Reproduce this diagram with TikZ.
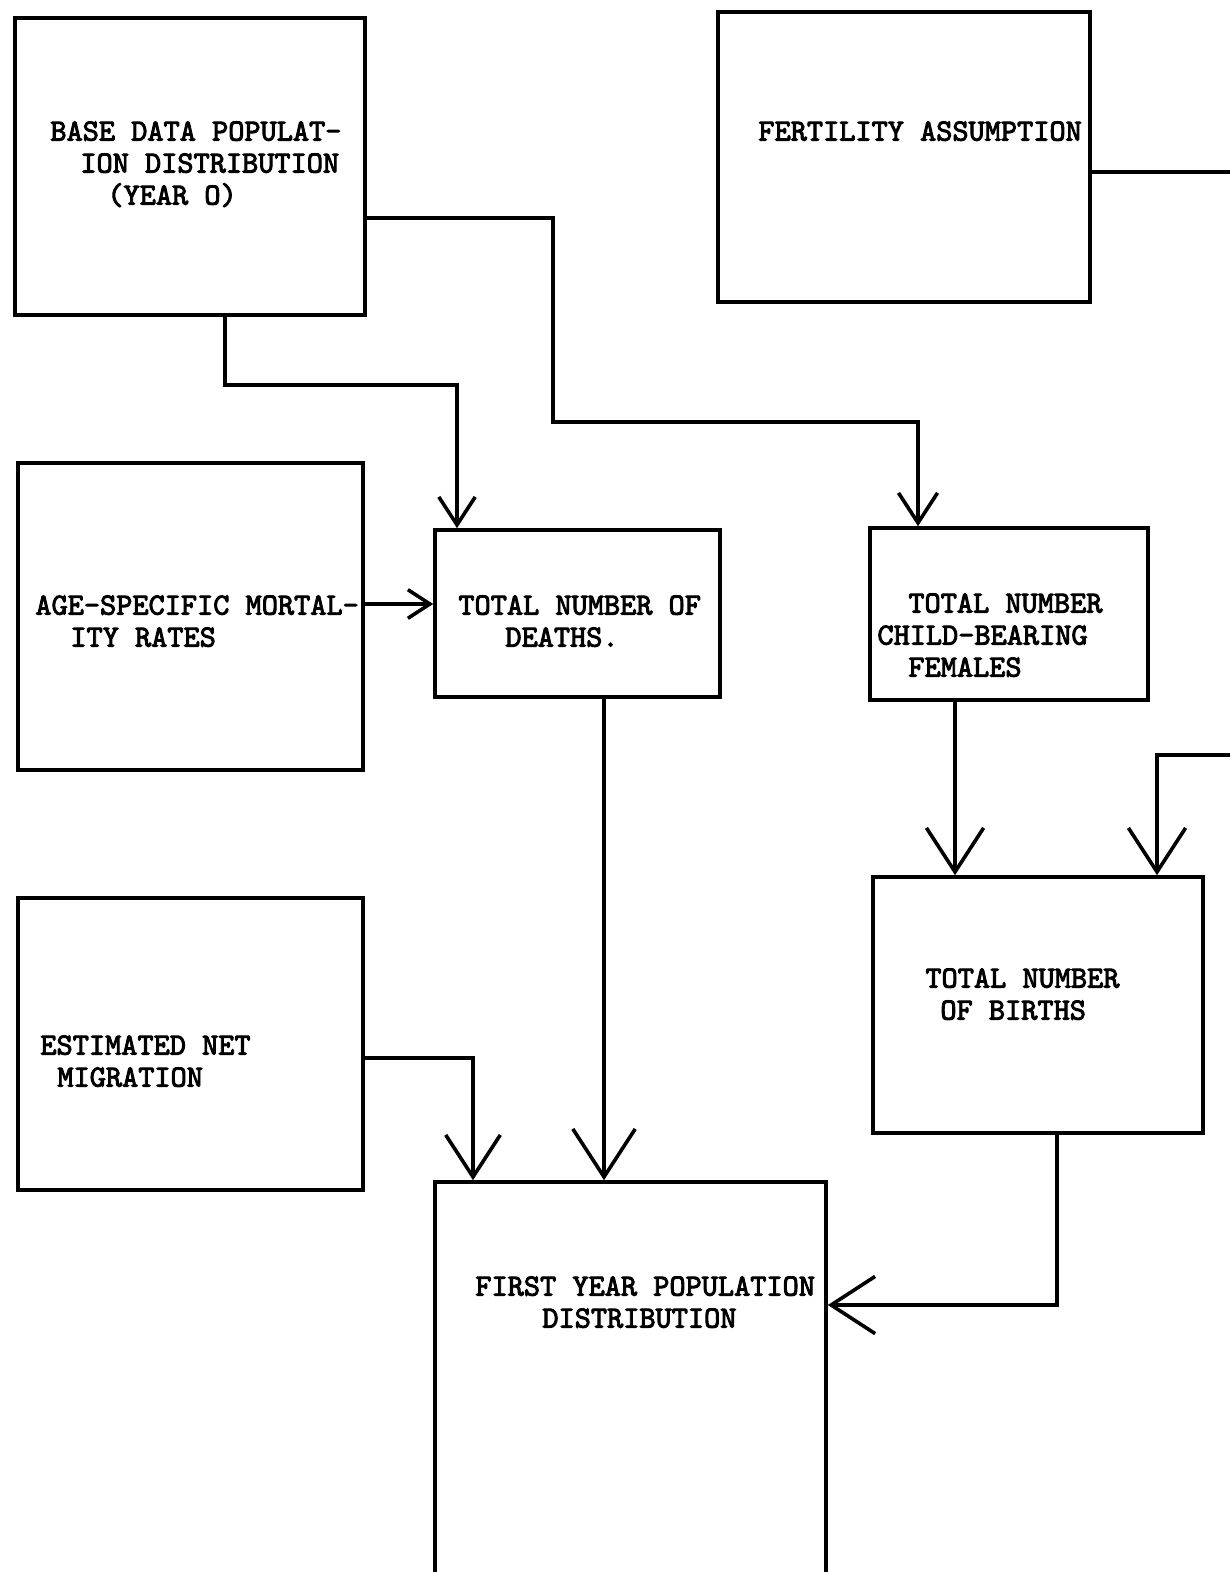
\documentclass[tikz,border=0pt]{standalone}
\usepackage{fontspec}
\newfontfamily\typer[FakeBold=3]{lmmono10-regular.otf}
\usetikzlibrary{arrows.meta,fit}

\tikzset{
  block/.style={draw, line width=1.8pt, inner sep=0pt},
  boxtext/.style={anchor=north west, inner sep=0pt, align=left,
    font=\typer\fontsize{15.4}{16}\selectfont},
  flow/.style={line width=1.8pt, -{Straight Barb[length=#1, width'=0pt 1.3, line width=1.8pt]}}
}

\begin{document}
\begin{tikzpicture}[x=0.5pt, y=-0.5pt]
    \useasboundingbox (0,0) rectangle (1230,1572);
    % boxes
    \node[block, fit={(15,18) (365,315)}] (base) {};
    \node[block, fit={(718,12) (1090,302)}] (fert) {};
    \node[block, fit={(18,463) (363,770)}] (age) {};
    \node[block, fit={(435,530) (720,697)}] (deaths) {};
    \node[block, fit={(870,528) (1148,700)}] (cbf) {};
    \node[block, fit={(873,877) (1203,1133)}] (births) {};
    \node[block, fit={(18,898) (363,1190)}] (mig) {};
    \node[block, fit={(435,1182) (826,1600)}] (first) {};
    % texts
    \node[boxtext] (tbase) at (50,121) {BASE DATA POPULAT-\\\hspace*{15pt}ION DISTRIBUTION\\\hspace*{28.5pt}(YEAR O)};
    \node[boxtext] (tfert) at (758,121) {FERTILITY ASSUMPTION};
    \node[boxtext] (tage) at (35,595) {AGE-SPECIFIC MORTAL-\\\hspace*{17.5pt}ITY RATES};
    \node[boxtext] (tdeaths) at (458,595) {TOTAL NUMBER OF\\\hspace*{23.5pt}DEATHS.};
    \node[boxtext] (tcbf) at (877,593) {\hspace*{15.5pt}TOTAL NUMBER\\CHILD-BEARING\\\hspace*{15.5pt}FEMALES};
    \node[boxtext] (tbirths) at (925,968) {TOTAL NUMBER\\\hspace*{7.5pt}OF BIRTHS};
    \node[boxtext] (tmig) at (40,1035) {ESTIMATED NET\\\hspace*{8.5pt}MIGRATION};
    \node[boxtext] (tfirst) at (475,1276) {FIRST YEAR POPULATION\\\hspace*{33.5pt}DISTRIBUTION};
    % bends
    \coordinate (b1) at (225,385);
    \coordinate (b2) at (457,385);
    \coordinate (r1) at (553,218);
    \coordinate (r2) at (553,422);
    \coordinate (r3) at (918,422);
    \coordinate (m1) at (400,604);
    \coordinate (d1) at (604,0);
    \coordinate (g1) at (473,1058);
    \coordinate (f1) at (1230,172);
    \coordinate (f2) at (1230,755);
    \coordinate (f3) at (1157,755);
    \coordinate (c1) at (955,0);
    \coordinate (h1) at (1057,1305);
    % connectors
    \draw[flow=14pt] (base.south -| b1) -- (b1) -- (b2) -- (deaths.north -| b2);
    \draw[flow=15pt] (base.east |- r1) -- (r1) -- (r2) -- (r3) -- (cbf.north -| r3);
    \draw[flow=11pt] (age.east |- m1) -- (deaths.west |- m1);
    \draw[flow=24pt] (deaths.south -| d1) -- (first.north -| d1);
    \draw[flow=21pt] (mig.east |- g1) -- (g1) -- (first.north -| g1);
    \draw[line width=1.8pt] (fert.east |- f1) -- (f1);
    \draw[flow=22pt] (f2) -- (f3) -- (births.north -| f3);
    \draw[flow=22pt] (cbf.south -| c1) -- (births.north -| c1);
    \draw[flow=22pt] (births.south -| h1) -- (h1) -- (first.east |- h1);
\end{tikzpicture}
\end{document}
